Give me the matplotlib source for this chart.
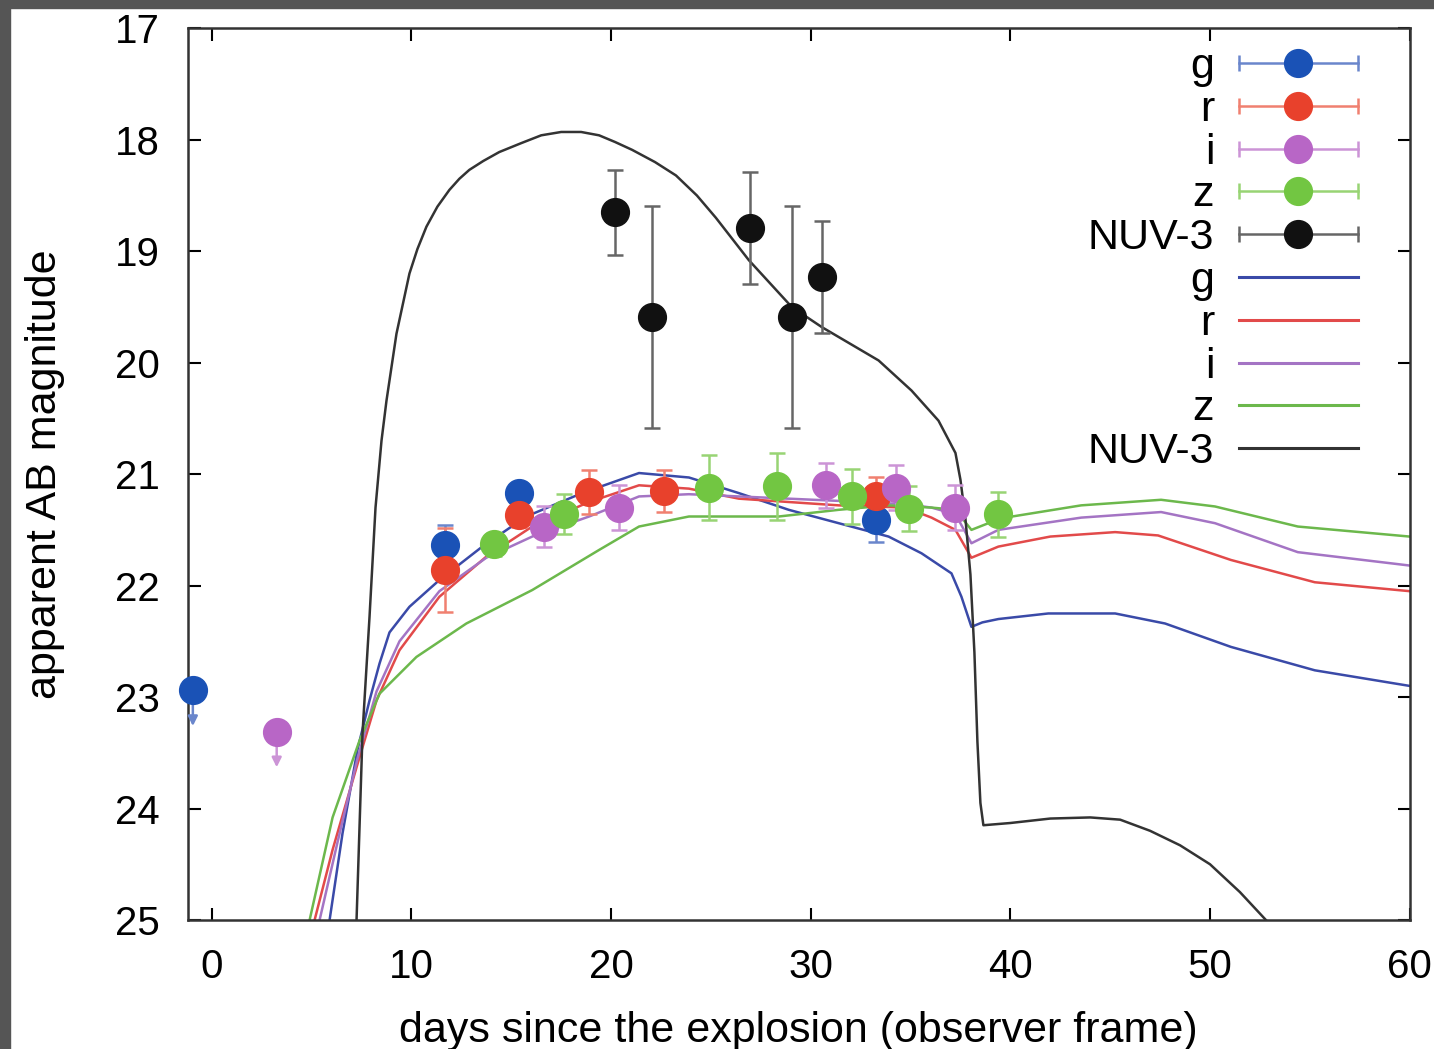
import matplotlib
matplotlib.use('Agg')
import matplotlib.pyplot as plt
from matplotlib.lines import Line2D
from matplotlib.patches import Rectangle
from matplotlib.legend_handler import HandlerLine2D, HandlerTuple

plt.rcParams['font.family'] = ['Liberation Sans', 'DejaVu Sans']

# observed photometry (days, AB mag, 1-sigma error)
g_t = [11.7, 15.4, 33.25]
g_m = [21.64, 21.17, 21.41]
g_e = [0.18, 0.1, 0.2]

r_t = [11.7, 15.4, 18.9, 22.65, 33.25]
r_m = [21.86, 21.37, 21.16, 21.15, 21.2]
r_e = [0.38, 0.1, 0.2, 0.19, 0.17]

i_t = [16.65, 20.4, 30.75, 34.25, 37.25]
i_m = [21.47, 21.3, 21.1, 21.12, 21.3]
i_e = [0.18, 0.2, 0.2, 0.2, 0.2]

z_t = [14.15, 17.65, 24.9, 28.3, 32.05, 34.9, 39.4]
z_m = [21.63, 21.36, 21.12, 21.11, 21.2, 21.31, 21.36]
z_e = [0.1, 0.18, 0.29, 0.3, 0.25, 0.2, 0.2]

nuv_t = [20.2, 22.05, 26.95, 29.05, 30.55]
nuv_m = [18.65, 19.59, 18.79, 19.59, 19.23]
nuv_e = [0.38, 1.0, 0.5, 1.0, 0.5]

# upper limits
g_lim_t = [-0.95]
g_lim_m = [22.94]
i_lim_t = [3.25]
i_lim_m = [23.31]

# model light curves
mg_t = [5.9, 6.55, 7.3, 7.9, 8.4, 8.9, 9.9, 11.4, 13.55, 15.75, 18.55, 21.4, 23.9, 26.4,
        28.9, 31.4, 33.9, 35.55, 37.05, 37.55, 38.05, 38.6, 39.4, 41.9, 45.25, 47.75,
        51.05, 55.25, 60]
mg_m = [25.0, 24.22, 23.47, 23.03, 22.7, 22.42, 22.19, 21.95, 21.65, 21.38, 21.17, 20.99,
        21.03, 21.17, 21.32, 21.44, 21.56, 21.71, 21.89, 22.1, 22.37, 22.33, 22.3, 22.25,
        22.25, 22.34, 22.55, 22.76, 22.9]

mr_t = [5.15, 6.05, 7.25, 8.25, 9.4, 11.4, 13.75, 16.05, 18.9, 21.4, 23.9, 26.4, 28.9,
        31.4, 34.75, 36.05, 37.25, 38.05, 39.4, 42.0, 45.25, 47.4, 51.05, 55.25, 60]
mr_m = [25.0, 24.37, 23.63, 23.03, 22.58, 22.1, 21.74, 21.47, 21.25, 21.1, 21.13, 21.22,
        21.25, 21.28, 21.3, 21.39, 21.5, 21.75, 21.65, 21.56, 21.52, 21.55, 21.77, 21.97,
        22.05]

mi_t = [5.4, 6.3, 7.3, 8.25, 9.4, 11.4, 13.75, 16.05, 18.9, 21.4, 23.9, 26.4, 28.9, 31.4,
        34.75, 36.05, 37.25, 38.05, 39.4, 43.55, 47.55, 50.25, 54.4, 60]
mi_m = [25.0, 24.3, 23.55, 22.95, 22.5, 22.05, 21.75, 21.56, 21.38, 21.2, 21.18, 21.2,
        21.22, 21.24, 21.27, 21.3, 21.36, 21.62, 21.5, 21.39, 21.34, 21.44, 21.7, 21.82]

mz_t = [4.9, 6.05, 7.4, 8.4, 10.25, 12.75, 16.05, 19.4, 21.4, 23.9, 28.4, 31.4, 33.9,
        36.05, 37.25, 38.05, 38.9, 39.4, 43.55, 47.55, 50.25, 54.4, 60]
mz_m = [25.0, 24.08, 23.39, 22.97, 22.64, 22.34, 22.04, 21.68, 21.47, 21.38, 21.38, 21.32,
        21.28, 21.3, 21.32, 21.5, 21.44, 21.4, 21.28, 21.23, 21.29, 21.47, 21.56]

mnuv_t = [7.25, 7.55, 7.9, 8.2, 8.5, 8.75, 9.25, 9.9, 10.3, 10.75, 11.3, 11.9, 12.4, 12.9,
          13.6, 14.4, 15.5, 16.5, 17.5, 18.5, 19.4, 20.2, 21.05, 22.2, 23.25, 24.3, 25.25,
          26.9, 29.05, 30.55, 33.4, 35.05, 36.4, 37.25, 37.5, 37.75, 38.0, 38.2, 38.35,
          38.5, 38.65, 40.0, 42.0, 44.0, 45.5, 47.0, 48.5, 50.0, 51.5, 52.8]
mnuv_m = [25.0, 23.32, 22.28, 21.3, 20.7, 20.34, 19.74, 19.2, 18.98, 18.78, 18.6, 18.45,
          18.35, 18.27, 18.19, 18.11, 18.03, 17.96, 17.93, 17.93, 17.96, 18.02, 18.09, 18.2,
          18.32, 18.5, 18.7, 19.08, 19.5, 19.68, 19.98, 20.25, 20.52, 20.81, 21.05, 21.4,
          21.9, 22.6, 23.4, 23.95, 24.15, 24.13, 24.09, 24.08, 24.1, 24.2, 24.33, 24.5,
          24.75, 25.0]

# colours: marker, errorbar, model line
c_g = ('#1a52b6', '#6a86cc', '#3a4aa8')
c_r = ('#e8412c', '#f08070', '#e24a4a')
c_i = ('#b866c6', '#cc94d6', '#a474c4')
c_z = ('#72c642', '#98d474', '#6cb84c')
c_nuv = ('#111111', '#666666', '#333333')

fig = plt.figure(figsize=(14.34, 10.49), dpi=100)
ax = fig.add_axes([0.131, 0.123, 0.852, 0.85])
ax.set_xlim(-1.2, 60)
ax.set_ylim(25, 17)

# model curves
for t, m, c in [(mg_t, mg_m, c_g), (mr_t, mr_m, c_r), (mi_t, mi_m, c_i),
                (mz_t, mz_m, c_z), (mnuv_t, mnuv_m, c_nuv)]:
    ax.plot(t, m, color=c[2], lw=1.8, zorder=2)

# data points
ms = 20
for t, m, e, c in [(g_t, g_m, g_e, c_g), (r_t, r_m, r_e, c_r), (i_t, i_m, i_e, c_i),
                   (z_t, z_m, z_e, c_z), (nuv_t, nuv_m, nuv_e, c_nuv)]:
    ax.errorbar(t, m, yerr=e, fmt='o', color=c[0], ms=ms, ecolor=c[1],
                elinewidth=1.8, capsize=6, capthick=1.8, zorder=3)

# upper limits with short arrows
for t, m, c in [(g_lim_t, g_lim_m, c_g), (i_lim_t, i_lim_m, c_i)]:
    for tt, mm in zip(t, m):
        ax.annotate('', xy=(tt, mm + 0.32), xytext=(tt, mm),
                    arrowprops=dict(arrowstyle='-|>', color=c[1], lw=1.8,
                                    mutation_scale=14, shrinkA=0, shrinkB=0),
                    annotation_clip=False, zorder=3)
    ax.plot(t, m, 'o', color=c[0], ms=ms, clip_on=False, zorder=4)

# legend: data entries (with caps) then model lines
handles = []
hmap = {}
for c in [c_g, c_r, c_i, c_z, c_nuv]:
    bar = Line2D([], [], color=c[1], lw=1.8, marker='|', ms=12, mew=1.8)
    dot = Line2D([], [], color=c[0], marker='o', ms=ms, ls='none')
    hmap[bar] = HandlerLine2D(numpoints=2, marker_pad=0)
    hmap[dot] = HandlerLine2D(numpoints=1)
    handles.append((bar, dot))
for c in [c_g, c_r, c_i, c_z, c_nuv]:
    handles.append(Line2D([], [], color=c[2], lw=2.2))
labels = ['g', 'r', 'i', 'z', 'NUV-3'] * 2
hmap[tuple] = HandlerTuple(ndivide=1)
ax.legend(handles, labels, handler_map=hmap, loc='upper right',
          bbox_to_anchor=(0.9574, 0.979), markerfirst=False, frameon=False,
          fontsize=31, handlelength=2.75, handletextpad=0.58, labelspacing=0.065,
          borderaxespad=0, borderpad=0)

ax.set_xticks([0, 10, 20, 30, 40, 50, 60])
ax.set_yticks([17, 18, 19, 20, 21, 22, 23, 24, 25])
ax.tick_params(direction='in', length=9, width=1.5, top=True, right=True,
               labelsize=29, pad=20)
for s in ax.spines.values():
    s.set_linewidth(1.8)
    s.set_color('#333333')

ax.set_xlabel('days since the explosion (observer frame)', fontsize=31, labelpad=18)
ax.set_ylabel('apparent AB magnitude', fontsize=31, labelpad=36)

# dark frame along the left and top edges
fig.patches.append(Rectangle((0, 0), 10 / 1434, 1, transform=fig.transFigure,
                             color='#555555', zorder=10))
fig.patches.append(Rectangle((0, 1 - 8 / 1049), 1, 8 / 1049, transform=fig.transFigure,
                             color='#555555', zorder=10))

fig.savefig('out.png', dpi=100)
